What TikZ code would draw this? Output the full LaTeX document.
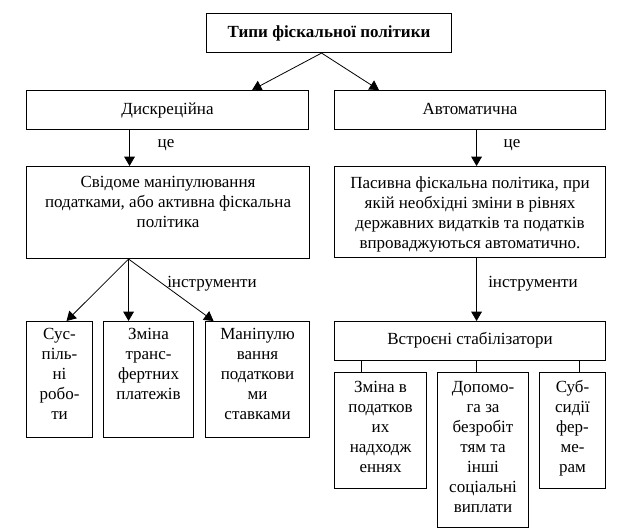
\documentclass[tikz,border=0pt]{standalone}
\usepackage{fontspec}
\setmainfont{Liberation Serif}
\usetikzlibrary{arrows.meta}
\newdimen\pxu \pxu=0.75pt
\newcommand{\boxtxt}[4]{\parbox[b][#2\pxu][t]{#1\pxu}{\vspace*{#3\pxu}\centering\strut #4\par}}
\begin{document}
\begin{tikzpicture}[x=0.75pt,y=-0.75pt,
  font=\fontsize{12.75}{15}\selectfont,
  box/.style={draw, line width=0.8pt, inner sep=0pt, anchor=north west},
  arr/.style={-{Triangle[width=8pt,length=7pt]}, line width=0.6pt},
  conn/.style={line width=0.6pt},
  lbl/.style={inner sep=0pt}]
\useasboundingbox (0,0) rectangle (643,528);

\node[box] (title) at (206,13) {\boxtxt{245}{39}{10}{\bfseries Типи фіскальної політики}};
\node[box] (disc) at (26,90) {\boxtxt{282}{39}{10}{Дискреційна}};
\node[box] (auto) at (334,90) {\boxtxt{271}{39}{10}{Автоматична}};
\node[box] (svid) at (26,166) {\boxtxt{283}{92}{7}{Свідоме маніпулювання\\ податками, або активна фіскальна\\ політика}};
\node[box] (pas) at (334,166) {\boxtxt{271}{91}{8}{Пасивна фіскальна політика, при\\ якій необхідні зміни в рівнях\\ державних видатків та податків\\ впроваджуються автоматично.}};
\node[box] (b1) at (26,321) {\boxtxt{66}{116}{4}{Сус-\\ піль-\\ ні\\ робо-\\ ти}};
\node[box] (b2) at (103,321) {\boxtxt{90}{116}{4}{Зміна\\ транс-\\ фертних\\ платежів}};
\node[box] (b3) at (205,321) {\boxtxt{104}{116}{4}{Маніпулю\\ вання\\ податкови\\ ми\\ ставками}};
\node[box] (stab) at (334,321) {\boxtxt{271}{39}{9}{Встроєні стабілізатори}};
\node[box] (r1) at (334,372) {\boxtxt{92}{116}{6}{Зміна в\\ податков\\ их\\ надходж\\ еннях}};
\node[box] (r2) at (437,372) {\boxtxt{91}{155}{6}{Допомо-\\ га за\\ безробіт\\ тям та\\ інші\\ соціальні\\ виплати}};
\node[box] (r3) at (539,372) {\boxtxt{66}{116}{6}{Суб-\\ сидії\\ фер-\\ ме-\\ рам}};

\node[lbl] (ce1) at (166,145) {це};
\node[lbl] (ce2) at (512,145) {це};
\node[lbl] (in1) at (212,284) {інструменти};
\node[lbl] (in2) at (533,284) {інструменти};

\coordinate (apex) at ([xshift=-5.6pt]title.south);
\draw[arr] (apex) -- ([xshift=-42.75pt]disc.north east);
\draw[arr] (apex) -- ([xshift=33.75pt]auto.north west);

\draw[arr] ([xshift=-28.5pt]disc.south) -- ([xshift=-28.5pt]disc.south |- svid.north);
\draw[arr] ([xshift=4.9pt]auto.south) -- ([xshift=4.9pt]auto.south |- pas.north);

\coordinate (fan) at ([xshift=-29.6pt]svid.south);
\draw[arr] (fan) -- ([xshift=5.25pt]b1.north);
\draw[arr] (fan) -- (fan |- b2.north);
\draw[arr] (fan) -- ([xshift=-33pt]b3.north);

\draw[arr] ([xshift=4.9pt]pas.south) -- ([xshift=4.9pt]pas.south |- stab.north);

\draw[conn] ([xshift=-14.25pt]r1.north) -- ([xshift=-14.25pt]r1.north |- stab.south);
\draw[conn] ([xshift=-4.875pt]r2.north) -- ([xshift=-4.875pt]r2.north |- stab.south);
\draw[conn] ([xshift=5.25pt]r3.north) -- ([xshift=5.25pt]r3.north |- stab.south);
\end{tikzpicture}
\end{document}
